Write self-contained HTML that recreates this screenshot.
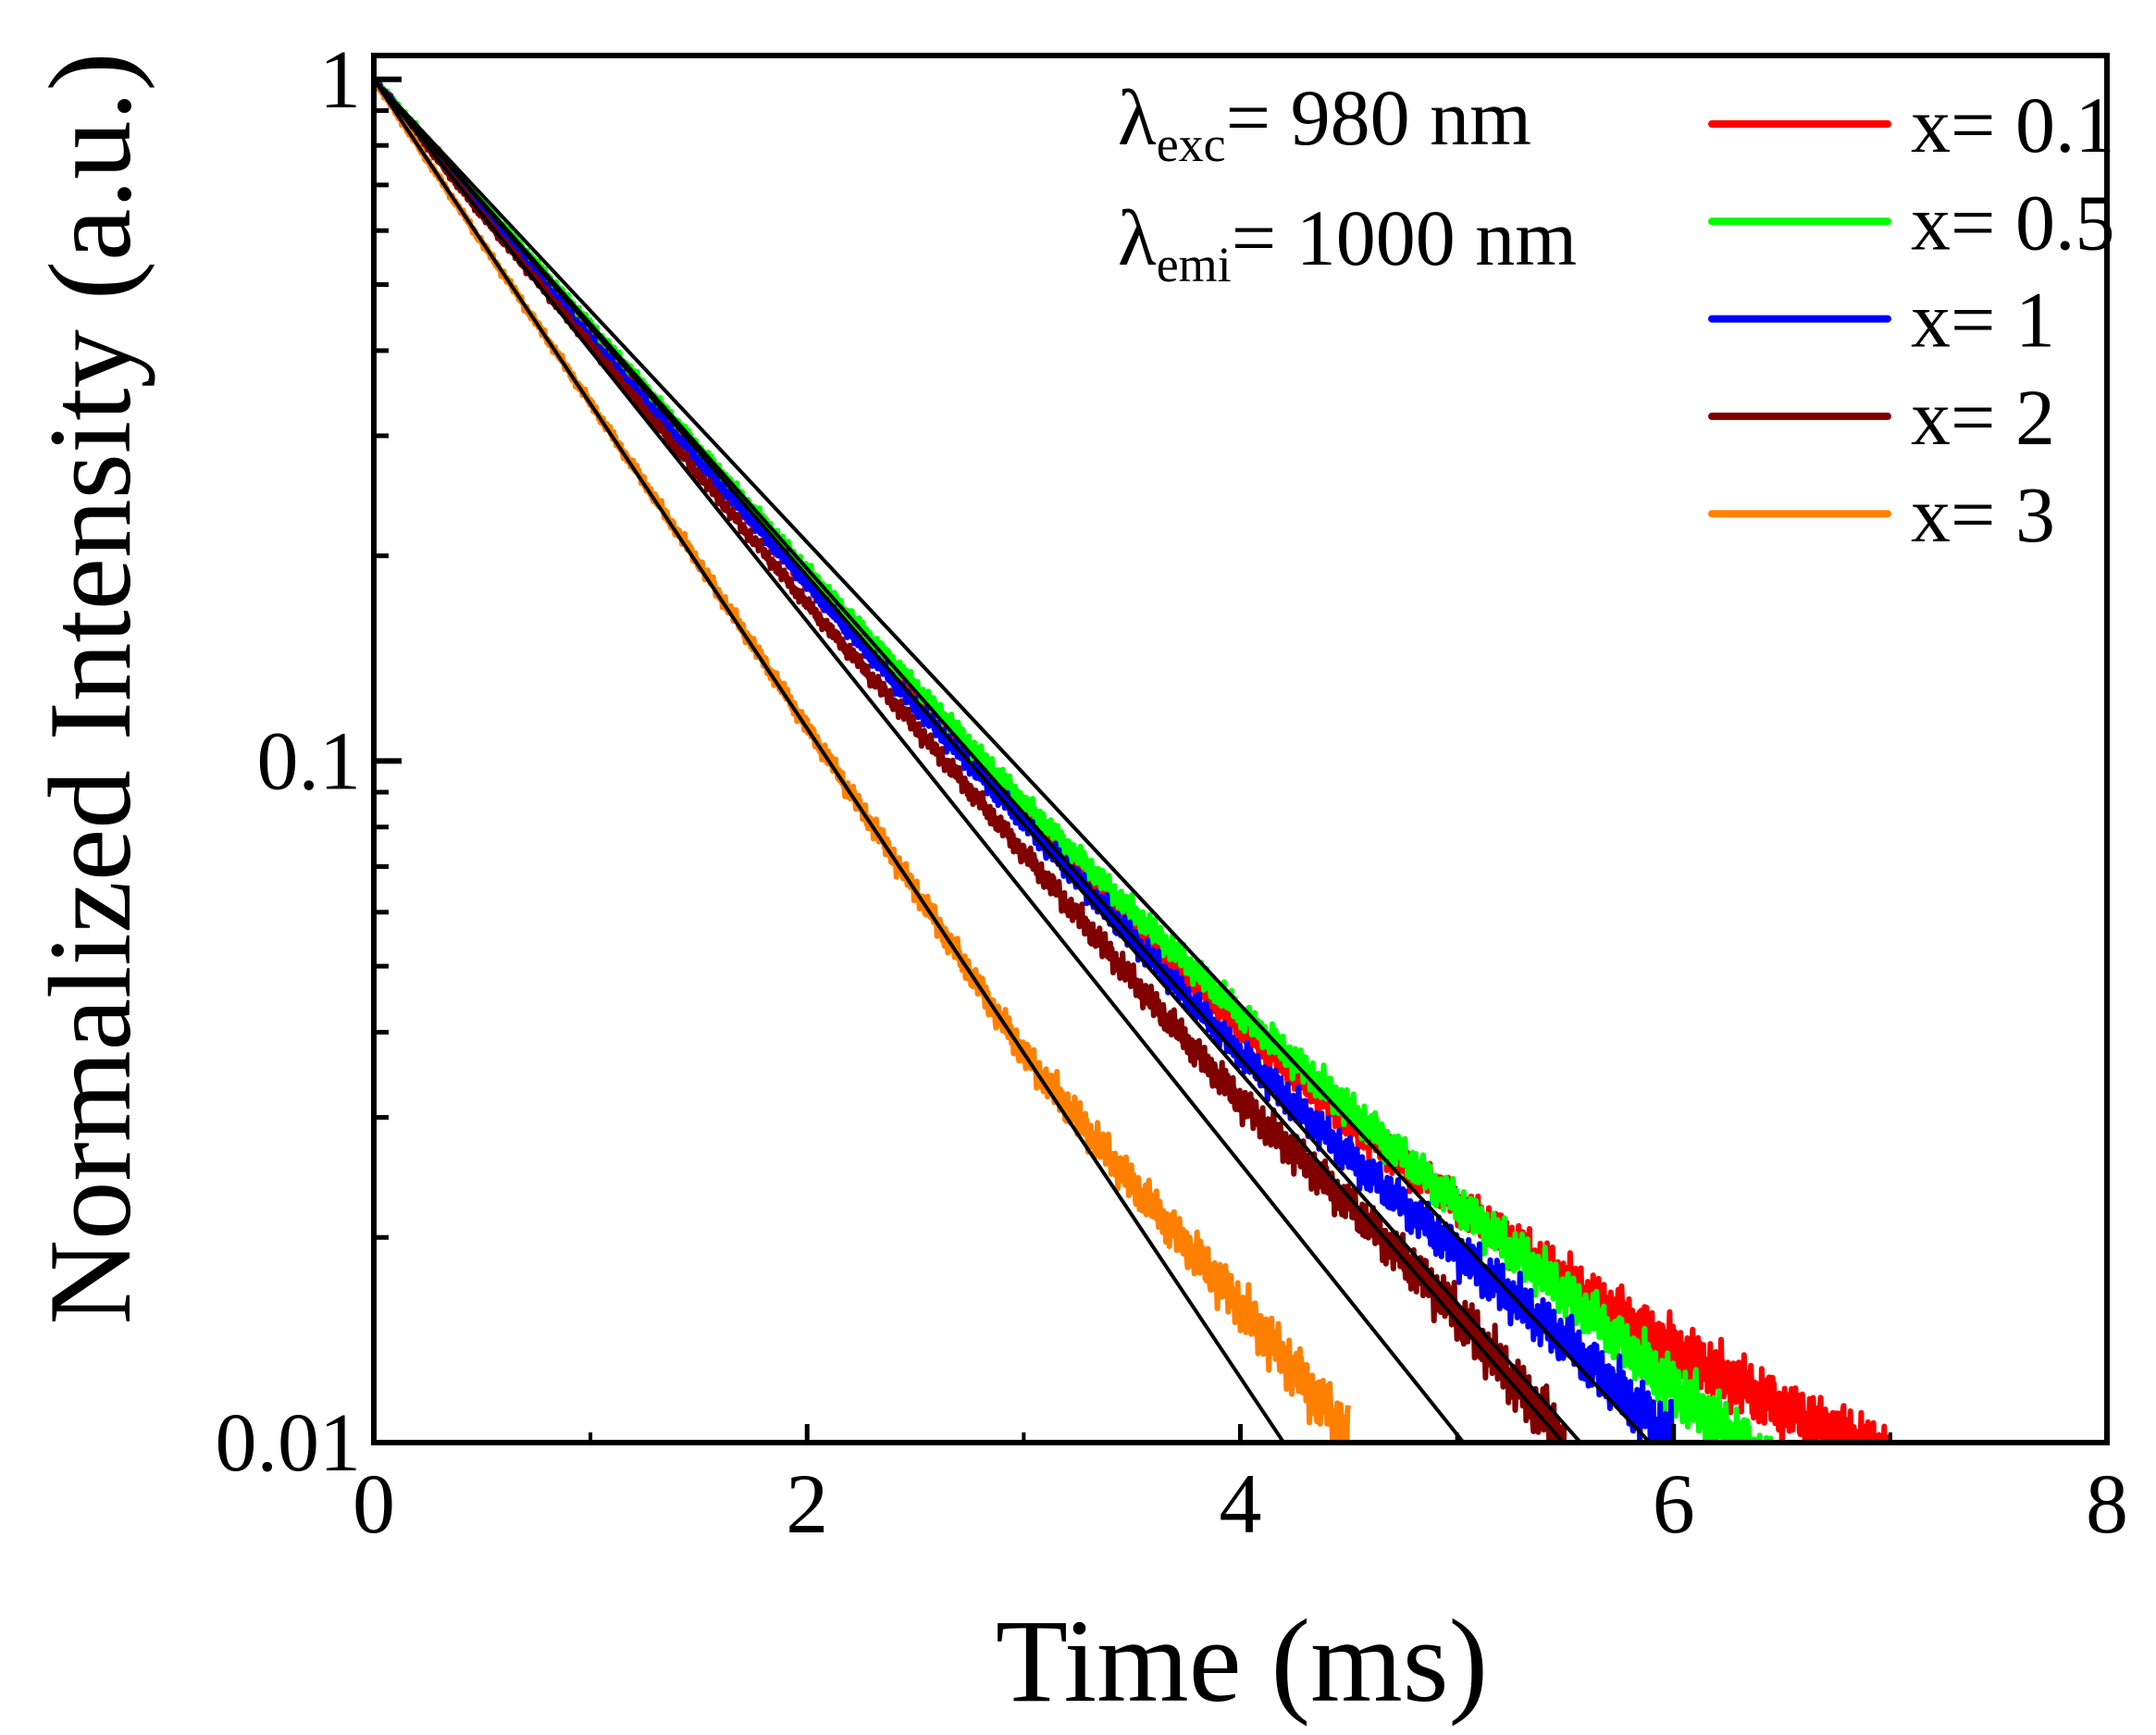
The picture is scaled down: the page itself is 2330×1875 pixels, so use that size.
<!DOCTYPE html>
<html><head><meta charset="utf-8"><style>
html,body{margin:0;padding:0;background:#fff;}
svg{display:block;font-family:"Liberation Serif",serif;}
</style></head><body>
<svg id="chart" width="2330" height="1875" viewBox="0 0 2330 1875" xmlns="http://www.w3.org/2000/svg">
<g id="marks"></g>
<g id="axes"></g>
<text x="1208" y="156" font-size="86">λ<tspan font-size="54" dy="18">exc</tspan><tspan dy="-18">= 980 nm</tspan></text>
<text x="1208" y="286" font-size="86">λ<tspan font-size="54" dy="18">emi</tspan><tspan dy="-18">= 1000 nm</tspan></text>
<text x="1342" y="1838" font-size="128" text-anchor="middle">Time (ms)</text>
<text transform="translate(140,744) rotate(-90)" font-size="127" text-anchor="middle">Normalized Intensity (a.u.)</text>
</svg>
<script>
const seriesNames = ["x= 0.1","x= 0.5","x= 1","x= 2","x= 3"];
const seriesColors = ["#ff0000","#00ff00","#0000ff","#800000","#ff8000"];
const times = [0,0.5,1,1.5,2,2.5,3,3.5,4,4.5,5,5.5,6,6.5,7];
// log10 of normalized intensity
const logRed    = [0,-0.19,-0.37,-0.56,-0.74,-0.91,-1.08,-1.24,-1.39,-1.53,-1.65,-1.76,-1.86,-1.95,-2.02];
const logGreen  = [0,-0.18,-0.36,-0.54,-0.72,-0.89,-1.06,-1.22,-1.37,-1.51,-1.65,-1.78,-1.92,-2.05,null];
const logBlue   = [0,-0.19,-0.38,-0.56,-0.74,-0.92,-1.09,-1.26,-1.43,-1.58,-1.72,-1.85,-2.0,null,null];
const logBrown  = [0,-0.20,-0.39,-0.58,-0.77,-0.95,-1.135,-1.32,-1.50,-1.65,-1.81,-2.0,null,null,null];
const logOrange = [0,-0.24,-0.475,-0.71,-0.95,-1.19,-1.43,-1.62,-1.80,-1.99,null,null,null,null,null];
const seriesLogs = [logRed,logGreen,logBlue,logBrown,logOrange];
// fitted single-exponential lines: time where fit reaches 0.01
const fitEndTimes = [5.89,5.57,5.49,5.03,4.2];
const xTicks = [0,2,4,6,8];
const xMinor = [1,3,5,7];
const yTicks = [1,0.1,0.01];
const yTickLabels = ["1","0.1","0.01"];

const L=404,R=2277,T=60,B=1559;
const X0=0,X1=8;
const Y1LOG=0.035,Y0LOG=-2;
function xs(t){return L+(t-X0)/(X1-X0)*(R-L);}
function ysLog(lg){return B-(lg-Y0LOG)/(Y1LOG-Y0LOG)*(B-T);}
function ys(v){return ysLog(Math.log10(v));}

const NS="http://www.w3.org/2000/svg";
const marks=document.getElementById('marks');
const axes=document.getElementById('axes');
function mk(tag,attrs,parent){const e=document.createElementNS(NS,tag);for(const k in attrs)e.setAttribute(k,attrs[k]);parent.appendChild(e);return e;}

const defs=mk('defs',{},marks);
const cp=mk('clipPath',{id:'clip'},defs);
mk('rect',{x:L,y:T,width:R-L,height:B-T},cp);
const plotG=mk('g',{'clip-path':'url(#clip)'},marks);

[0,1,2,3,4].forEach(si=>{
  const arr=seriesLogs[si];
  let pts=[];
  for(let i=0;i<times.length-1;i++){
    if(arr[i]==null||arr[i+1]==null)break;
    const n=160;
    for(let j=0;j<n;j++){
      const f=j/n;
      const t=times[i]+f*(times[i+1]-times[i]);
      const lg=arr[i]+f*(arr[i+1]-arr[i]);
      const k=i*n+j+si*37;
      const amp=1.8/Math.sqrt(Math.pow(10,lg));
      const w=Math.sin(k*2.399)+0.6*Math.sin(k*0.731+1.1)+0.5*Math.sin(k*5.13+0.4)+0.4*Math.sin(k*0.173);
      pts.push(xs(t).toFixed(1)+','+(ysLog(lg)+amp*w).toFixed(1));
    }
  }
  const p=mk('polyline',{points:pts.join(' '),fill:'none',stroke:seriesColors[si],'stroke-width':6,'stroke-linejoin':'round'},plotG);
  
  
});
fitEndTimes.forEach((te,i)=>{
  const l=mk('line',{x1:xs(0),y1:ysLog(0),x2:xs(te),y2:ysLog(-2),stroke:'#000','stroke-width':4},plotG);
  
  
});

const fr=mk('rect',{x:L,y:T,width:R-L,height:B-T,fill:'none',stroke:'#000','stroke-width':6},axes);


xTicks.forEach(t=>{
  const x=xs(t);
  if(t>0&&t<8){const l=mk('line',{x1:x,y1:B,x2:x,y2:B-20,stroke:'#000','stroke-width':5},axes);
  }
  const tx=mk('text',{x:x,y:1656,'font-size':92,'text-anchor':'middle'},axes);tx.textContent=t;
  
  
});
xMinor.forEach(t=>{
  const l=mk('line',{x1:xs(t),y1:B,x2:xs(t),y2:B-11,stroke:'#000','stroke-width':4},axes);
  
  
});
yTicks.forEach((v,i)=>{
  const y=ys(v);
  const l=mk('line',{x1:L,y1:y,x2:L+30,y2:y,stroke:'#000','stroke-width':6},axes);
  
  
  const tx=mk('text',{x:390,y:y+30,'font-size':90,'text-anchor':'end'},axes);tx.textContent=yTickLabels[i];
  
  
});
[0.01,0.1].forEach(d=>{for(let m=2;m<=9;m++){
  const y=ys(d*m);
  const l=mk('line',{x1:L,y1:y,x2:L+16,y2:y,stroke:'#000','stroke-width':5},axes);
  
  
}});
seriesNames.forEach((n,i)=>{
  const y=134+i*105.3;
  const l=mk('line',{x1:1850,y1:y,x2:2040,y2:y,stroke:seriesColors[i],'stroke-width':8,'stroke-linecap':'round'},axes);
  
  
  const tx=mk('text',{x:2065,y:y+30,'font-size':86},axes);tx.textContent=n;
  
  
});
</script>
</body></html>
